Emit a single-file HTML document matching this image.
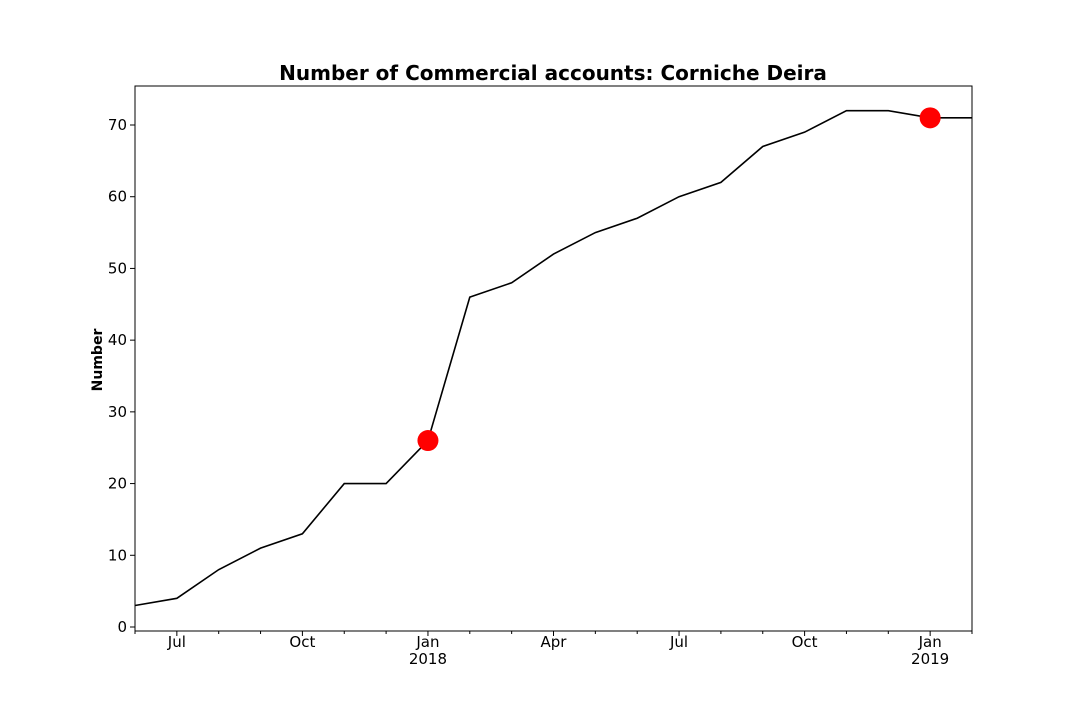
<!DOCTYPE html>
<html><head><meta charset="utf-8"><style>
body{margin:0;background:#fff;}
svg text{font-family:"DejaVu Sans","Liberation Sans",sans-serif;fill:#000;}
</style></head><body>
<svg id="chart" width="1080" height="720" xmlns="http://www.w3.org/2000/svg">
<text x="553" y="80" text-anchor="middle" font-size="20" font-weight="bold">Number of Commercial accounts: Corniche Deira</text>
<text transform="translate(102,360) rotate(-90)" text-anchor="middle" font-size="14" font-weight="bold">Number</text>
<g id="axes"></g>
<g id="marks"></g>
</svg>
<script>
const months = ["2017-06","2017-07","2017-08","2017-09","2017-10","2017-11","2017-12","2018-01","2018-02","2018-03","2018-04","2018-05","2018-06","2018-07","2018-08","2018-09","2018-10","2018-11","2018-12","2019-01","2019-02"];
const values = [3,4,8,11,13,20,20,26,46,48,52,55,57,60,62,67,69,72,72,71,71];
const highlightIdx = [7,19];
const yTicks = [0,10,20,30,40,50,60,70];
const xTickIdx = [1,4,7,10,13,16,19];
const xTickLabels = ["Jul","Oct","Jan\n2018","Apr","Jul","Oct","Jan\n2019"];

const L=135,R=972,T=86,B=631;
const xs=i=>L+i*(R-L)/(months.length-1);
const ys=v=>627-v*(627-125)/70;
const NS="http://www.w3.org/2000/svg";
const axes=document.getElementById('axes'),marks=document.getElementById('marks');
function mk(tag,attrs,parent){const e=document.createElementNS(NS,tag);for(const k in attrs)e.setAttribute(k,attrs[k]);parent.appendChild(e);return e;}

const frame=mk('rect',{x:L,y:T,width:R-L,height:B-T,fill:'none',stroke:'#000','stroke-width':1},axes);



yTicks.forEach(v=>{
  const y=ys(v);
  const t=mk('line',{x1:L-5,x2:L,y1:y,y2:y,stroke:'#000'},axes);
  
  
  const lb=mk('text',{x:L-8,y:y+5,'text-anchor':'end','font-size':15},axes);
  lb.textContent=v;
  
  
});
months.forEach((m,i)=>{
  const major=xTickIdx.includes(i);
  const x=xs(i);
  const t=mk('line',{x1:x,x2:x,y1:B,y2:B+(major?5:3),stroke:'#000'},axes);
  
  
});
xTickIdx.forEach((i,k)=>{
  const parts=xTickLabels[k].split("\n");
  parts.forEach((p,j)=>{
    const lb=mk('text',{x:xs(i),y:B+16+j*17,'text-anchor':'middle','font-size':15},axes);
    lb.textContent=p;
    
    
  });
});
const pts=values.map((v,i)=>xs(i)+','+ys(v)).join(' ');
const line=mk('polyline',{points:pts,fill:'none',stroke:'#000','stroke-width':1.6},marks);


highlightIdx.forEach(i=>{
  const c=mk('circle',{cx:xs(i),cy:ys(values[i]),r:10.5,fill:'#ff0000'},marks);
  
  
});
</script>
</body></html>
